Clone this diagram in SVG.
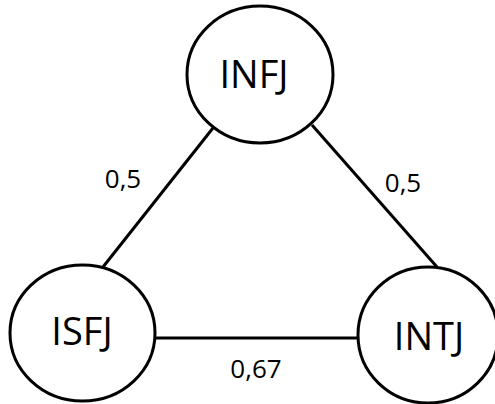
<svg xmlns="http://www.w3.org/2000/svg" width="495" height="404" viewBox="0 0 495 404">
<style>
.node{fill:#fff;stroke:#000;stroke-width:3}
.edge{stroke:#000;stroke-width:3;fill:none}
.nl{font-family:"Open Sans","Noto Sans",sans-serif;font-size:38px;fill:#000;text-anchor:middle}
.el{font-family:"Open Sans","Noto Sans",sans-serif;font-size:26px;fill:#000;text-anchor:middle}
</style>
<rect width="495" height="404" fill="#fff"/>
<g id="connectors">
<line class="edge" x1="213" y1="128" x2="103" y2="267"/>
<line class="edge" x1="312" y1="125" x2="437" y2="267"/>
<line class="edge" x1="155" y1="338" x2="358" y2="338"/>
<text class="el" x="123" y="188">0,5</text>
<text class="el" x="403" y="192">0,5</text>
<text class="el" x="256" y="378">0,67</text>
</g>
<g id="INFJ">
<ellipse class="node" cx="260" cy="74.5" rx="73" ry="68.5"/>
<text class="nl" x="254" y="88">INFJ</text>
</g>
<g id="ISFJ">
<ellipse class="node" cx="82.5" cy="333" rx="72.5" ry="68"/>
<text class="nl" x="82" y="345">ISFJ</text>
</g>
<g id="INTJ">
<ellipse class="node" cx="428" cy="335" rx="70" ry="68"/>
<text class="nl" x="429" y="350">INTJ</text>
</g>
</svg>
